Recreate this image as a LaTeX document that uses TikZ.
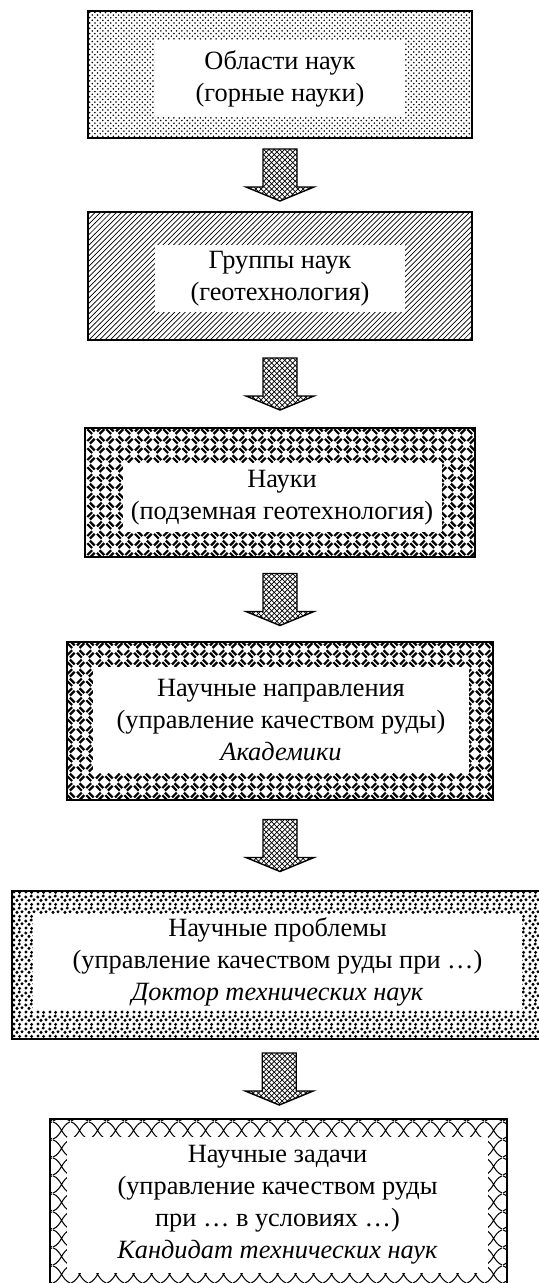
\documentclass[tikz,border=0pt]{standalone}
\usepackage{fontspec}
\setmainfont{Liberation Serif}
\usetikzlibrary{patterns, patterns.meta, calc, positioning}

% Motifs
\tikzdeclarepattern{
  name=weave, type=uncolored,
  bounding box={(0pt,0pt) and (11pt,11pt)},
  tile size={(11pt,11pt)},
  code={
    \draw[line width=1.3pt]
      (0.6pt,2.1pt) -- (3.4pt,4.9pt) (2.1pt,0.6pt) -- (4.9pt,3.4pt)
      (6.1pt,7.6pt) -- (8.9pt,10.4pt) (7.6pt,6.1pt) -- (10.4pt,8.9pt)
      (6.1pt,3.4pt) -- (8.9pt,0.6pt) (7.6pt,4.9pt) -- (10.4pt,2.1pt)
      (0.6pt,8.9pt) -- (3.4pt,6.1pt) (2.1pt,10.4pt) -- (4.9pt,7.6pt);
  }
}
\tikzdeclarepattern{
  name=spots, type=uncolored,
  bounding box={(0pt,0pt) and (7pt,7pt)},
  tile size={(7pt,7pt)},
  code={
    \fill (1.2pt,1.2pt) circle (1pt) (4.6pt,1pt) circle (1pt)
      (3pt,3.4pt) circle (1pt) (6pt,3.8pt) circle (1pt)
      (1.1pt,5.4pt) circle (1pt) (4.3pt,6pt) circle (1pt);
  }
}
\tikzdeclarepattern{
  name=chain, type=uncolored,
  bounding box={(0pt,0pt) and (10pt,10pt)},
  tile size={(10pt,10pt)},
  code={
    \draw[line width=0.6pt]
      (0pt,0pt) .. controls (5pt,1.9pt) and (5pt,8.1pt) .. (10pt,10pt)
      (0pt,10pt) .. controls (5pt,8.1pt) and (5pt,1.9pt) .. (10pt,0pt);
  }
}

\begin{document}
\begin{tikzpicture}[font=\fontsize{15}{18.2}\selectfont,
    frame/.style={draw, line width=1.1pt, rectangle, inner sep=0pt},
    inbox/.style={fill=white, inner sep=0pt, align=center},
    blk/.style={draw, line width=0.8pt, pattern=crosshatch}]
  \useasboundingbox (0,0) rectangle (10.78,-25.66);
  % Cadres
  \node[frame, pattern=crosshatch dots, minimum width=7.68cm,
        minimum height=2.54cm] (f1) at (5.6,-1.49) {};
  \node[frame, pattern=north east lines, minimum width=7.68cm,
        minimum height=2.56cm] (f2) at (5.6,-5.52) {};
  \node[frame, pattern=weave, minimum width=7.8cm,
        minimum height=2.58cm] (f3) at (5.6,-9.85) {};
  \node[frame, pattern=weave, minimum width=8.52cm,
        minimum height=3.16cm] (f4) at (5.6,-14.42) {};
  \node[frame, pattern=spots, minimum width=10.72cm,
        minimum height=2.96cm] (f5) at (5.6,-19.3) {};
  \node[frame, pattern=chain, minimum width=9.14cm,
        minimum height=3.42cm] (f6) at (5.57,-24.09) {};
  % Textes
  \node[inbox, minimum width=5.0cm, minimum height=1.54cm] (t1)
    at (5.6,-1.57) {Области наук\\(горные науки)};
  \node[inbox, minimum width=5.0cm, minimum height=1.34cm] (t2)
    at (5.6,-5.57) {Группы наук\\(геотехнология)};
  \node[inbox, minimum width=6.38cm, minimum height=1.38cm] (t3)
    at (5.64,-9.95) {Науки\\(подземная геотехнология)};
  \node[inbox, minimum width=7.52cm, minimum height=2.12cm] (t4)
    at (5.62,-14.4) {Научные направления\\(управление качеством руды)\\
    \textit{Академики}};
  \node[inbox, minimum width=9.78cm, minimum height=1.92cm] (t5)
    at (5.55,-19.24) {Научные проблемы\\(управление качеством руды при …)\\
    \textit{Доктор технических наук}};
  \node[inbox, minimum width=8.42cm, minimum height=2.72cm] (t6)
    at (5.55,-24.1) {Научные задачи\\(управление качеством руды\\
    при … в условиях …)\\\textit{Кандидат технических наук}};
  % Flèches
  \foreach \a/\b in {f1/f2, f2/f3, f3/f4, f4/f5, f5/f6}
    \draw[blk] ($(\a.south)!0.5!(\b.north)$) ++(-0.34,0.52) -- ++(0.68,0)
      -- ++(0,-0.76) -- ++(0.34,0) -- ++(-0.68,-0.28) -- ++(-0.68,0.28)
      -- ++(0.34,0) -- cycle;
\end{tikzpicture}
\end{document}
